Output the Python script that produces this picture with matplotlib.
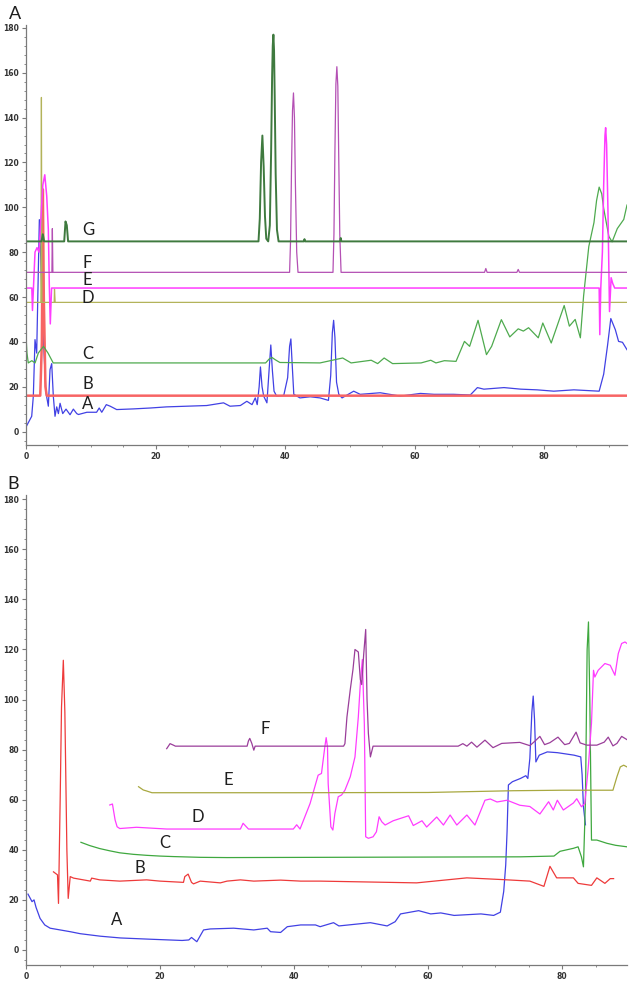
import numpy as np
import matplotlib
matplotlib.use("Agg")
import matplotlib.pyplot as plt
from matplotlib.ticker import MultipleLocator

# ---- panel A: (retention time, signal) points ----
pa_A = [(0.0, 2.0), (0.2, 3.1), (0.88, 6.8), (1.13, 15.7), (1.39, 41), (1.65, 35), (2.06, 94.5),
        (2.27, 78), (2.58, 47), (3.09, 17.2), (3.45, 11.3), (3.71, 27.6), (3.97, 30.3), (4.22, 15.7),
        (4.48, 6.8), (4.74, 11), (5.0, 8), (5.26, 12.6), (5.67, 8), (6.18, 10), (6.8, 7.5),
        (7.31, 10), (7.84, 8), (8.1, 7.6), (9.4, 8.6), (10.9, 8.6), (11.3, 10.5), (11.7, 8.6),
        (12.4, 12), (13.0, 11.3), (14.0, 9.8), (16.6, 10.1), (19.2, 10.5), (21.7, 11), (24.8, 11.3),
        (27.9, 11.6), (30.5, 12.8), (31.5, 11.3), (33.1, 11.6), (34.1, 13.5), (34.9, 12), (35.4, 15),
        (35.7, 12), (36.0, 20), (36.2, 28.8), (36.45, 20), (36.7, 15.8), (37.2, 12.8), (37.55, 28),
        (37.8, 38.6), (38.05, 27), (38.3, 18), (38.7, 15.8), (39.8, 16.1), (40.4, 24), (40.7, 38),
        (40.9, 41.3), (41.1, 30), (41.35, 16.6), (42.3, 15), (43.9, 15.5), (45.4, 15), (46.7, 13.9),
        (47.05, 25), (47.3, 44), (47.5, 49.6), (47.7, 42), (47.95, 22), (48.3, 16.6), (48.8, 15),
        (50.6, 18), (51.6, 16.6), (54.7, 17.3), (57.8, 15.8), (60.9, 17), (63.0, 16.6), (66.0, 16.6),
        (68.6, 16.3), (69.7, 19.6), (70.7, 18.9), (73.8, 19.6), (76.4, 18.9), (78.9, 18.6),
        (81.5, 18), (84.6, 18.6), (88.5, 18), (89.2, 25.6), (89.8, 38.5), (90.3, 50.4), (91.0, 45.4),
        (91.5, 40.2), (92.1, 39.8), (92.8, 36.5)]
pa_B = [(0.2, 16), (2.2, 16), (2.45, 40), (2.6, 108), (2.75, 60), (3.0, 20), (3.2, 16), (92.8, 16)]
pa_C = [(0.0, 42.5), (0.15, 35), (0.35, 30.6), (0.9, 31.6), (1.4, 30.6), (1.9, 35), (2.7, 38),
        (3.4, 35), (4.2, 30.6), (37.0, 30.6), (37.6, 32.5), (38.0, 33), (38.5, 32), (39.2, 30.8),
        (45.4, 30.6), (48.9, 32.8), (50.2, 30.6), (53.3, 31.8), (54.3, 30.3), (55.3, 32.8), (56.6, 30.3),
        (61.0, 30.6), (62.5, 31.8), (63.3, 30.6), (64.6, 31.6), (66.4, 31.3), (67.7, 40.2), (68.5, 38),
        (69.8, 49.6), (71.1, 34.3), (71.9, 38), (73.4, 49.9), (74.7, 42.2), (76.0, 45.8), (76.8, 44.8),
        (77.6, 46.3), (79.1, 41.8), (79.8, 48.4), (81.1, 39.5), (83.1, 56.2), (83.9, 47), (84.8, 50),
        (85.6, 41.8), (86.1, 60.5), (86.9, 82.5), (87.7, 93.2), (88.1, 103), (88.5, 109), (88.9, 106),
        (89.2, 99.5), (90.0, 87), (90.5, 84.6), (91.3, 90.5), (92.3, 94.6), (92.8, 101)]
pa_D = [(0.15, 57.6), (2.3, 57.6), (2.38, 149), (2.46, 57.6), (4.35, 57.6), (4.4, 63.5), (4.5, 57.6),
        (92.8, 57.6)]
pa_E = [(0.15, 64), (0.9, 64), (1.0, 54), (1.15, 64), (1.39, 80), (1.7, 82), (2.0, 80), (2.3, 95),
        (2.6, 110), (2.9, 114.5), (3.2, 105), (3.45, 90), (3.6, 65), (3.75, 48), (3.95, 64),
        (88.5, 64), (88.6, 43.2), (88.75, 64), (89.0, 80), (89.2, 110), (89.4, 132), (89.5, 135.5),
        (89.65, 128), (89.85, 100), (90.1, 53.5), (90.35, 68.6), (90.6, 66), (90.9, 64), (92.8, 64)]
pa_F = [(0.15, 71), (4.0, 71), (4.07, 90.5), (4.15, 71), (40.7, 71), (40.85, 85), (41.0, 118),
        (41.15, 143), (41.3, 151), (41.45, 140), (41.6, 110), (41.8, 80), (42.0, 71), (47.4, 71),
        (47.55, 88), (47.7, 125), (47.85, 155), (48.0, 162.7), (48.15, 154), (48.3, 120),
        (48.45, 88), (48.65, 71), (70.8, 71), (71.0, 72.7), (71.2, 71), (75.8, 71), (76.0, 72.3),
        (76.2, 71), (92.8, 71)]
pa_G = [(0.15, 84.8), (2.4, 84.8), (2.6, 88), (2.8, 84.8), (5.9, 84.8), (6.1, 93.7), (6.3, 92),
        (6.5, 84.8), (35.9, 84.8), (36.1, 95), (36.3, 120), (36.5, 132), (36.7, 118), (36.9, 96),
        (37.1, 86), (37.4, 84.8), (37.65, 92), (37.85, 125), (38.0, 158), (38.1, 172), (38.2, 177),
        (38.3, 170), (38.4, 150), (38.55, 115), (38.75, 90), (39.0, 84.8), (42.9, 84.8),
        (43.0, 85.8), (43.1, 84.8), (48.5, 84.8), (48.6, 86.3), (48.7, 84.8), (92.8, 84.8)]

# ---- panel B ----
pb_A = [(0.3, 22.3), (0.9, 19.3), (1.2, 20), (1.5, 17), (2.1, 12.6), (2.8, 10), (3.6, 8.7),
        (5.1, 8), (6.6, 7.3), (8.1, 6.5), (11.1, 5.5), (14.1, 4.8), (18.5, 4.3), (23.3, 3.8),
        (24.3, 4), (24.7, 5), (25.5, 3.3), (26.5, 8), (27.5, 8.4), (31.0, 8.7), (34.0, 8),
        (36.0, 8.7), (36.5, 7.3), (38.0, 7), (39.0, 9.3), (41.0, 10), (43.2, 10), (43.9, 9.3),
        (45.9, 10.9), (46.7, 9.6), (51.4, 10.9), (53.9, 9.6), (55.1, 11.3), (55.9, 14.4), (58.6, 15.7),
        (60.4, 14.4), (61.9, 14.8), (63.9, 13.8), (67.9, 14.4), (69.8, 13.8), (70.8, 15.1),
        (71.3, 23.4), (71.6, 34), (71.8, 47.3), (72.0, 65.9), (72.6, 67.2), (73.8, 68.5), (74.6, 69.6),
        (74.9, 68.5), (75.2, 76.5), (75.5, 95), (75.7, 101.4), (75.9, 92), (76.1, 75.1), (76.6, 77.8),
        (77.8, 79.1), (79.3, 78.8), (81.8, 77.8), (82.8, 77.1), (83.0, 70), (83.2, 57.2), (83.5, 50)]
pb_B = [(4.1, 31.2), (4.7, 30), (4.85, 18.6), (5.1, 60), (5.3, 97), (5.57, 115.7), (5.8, 95),
        (6.1, 40), (6.3, 20.6), (6.6, 29.3), (7.1, 28.7), (9.6, 27.5), (9.8, 28.7), (11.0, 28),
        (14.0, 27.5), (18.0, 28), (20.0, 27.5), (23.5, 27), (23.7, 29.3), (24.2, 30.3), (24.7, 27),
        (25.0, 26.4), (26.0, 27.5), (29.0, 26.8), (30.0, 27.5), (32.0, 28), (34.0, 27.5), (38.0, 27.9),
        (41.0, 27.5), (43.9, 27.5), (58.3, 26.8), (65.8, 28.8), (71.2, 28.1), (75.2, 27.5),
        (77.3, 25.4), (78.2, 33.4), (79.2, 28.8), (81.7, 28.8), (82.4, 26.6), (84.4, 25.8),
        (85.2, 28.8), (86.4, 26.6), (87.2, 28.5), (87.7, 28.5)]
pb_C = [(8.2, 43), (9.5, 41.7), (11.0, 40.5), (12.5, 39.6), (14.0, 38.8), (16.0, 38.2), (18.0, 37.8),
        (20.0, 37.5), (22.0, 37.3), (26.0, 37), (30.0, 36.9), (73.8, 37.2), (78.8, 37.5),
        (79.7, 39.4), (81.7, 40.6), (82.4, 41.2), (82.9, 37.2), (83.2, 33.2), (83.5, 60),
        (83.75, 120), (83.95, 131), (84.15, 100), (84.4, 43.9), (85.2, 43.9), (86.7, 42.6),
        (88.0, 41.8), (89.7, 41.2)]
pb_D = [(12.5, 57.9), (12.9, 58.3), (13.3, 51.9), (13.6, 49.2), (14.0, 48.5), (16.5, 49), (21.0, 48.3),
        (32.0, 48.3), (32.4, 50.6), (33.2, 48.3), (39.9, 48.3), (40.4, 50), (40.9, 48.3), (42.4, 58.5),
        (43.6, 69.8), (44.1, 70.5), (44.6, 81.1), (44.8, 84.8), (45.0, 81), (45.1, 66.5), (45.5, 49.2),
        (45.8, 47.9), (46.1, 54.5), (46.6, 61.2), (47.1, 61.9), (47.6, 63.8), (48.4, 69.2), (49.1, 77.1),
        (49.6, 93.1), (49.9, 106.4), (50.2, 116), (50.5, 90), (50.7, 45.2), (51.1, 44.6), (51.8, 45.2),
        (52.3, 47.2), (52.7, 53.2), (53.1, 51.2), (53.6, 49.9), (54.8, 51.6), (57.1, 53.6),
        (57.8, 49.7), (59.1, 51.6), (59.8, 49.1), (61.3, 53.1), (62.3, 49.9), (63.3, 53.9),
        (64.3, 49.9), (65.8, 53.9), (67.0, 49.9), (68.5, 59.8), (69.3, 60.3), (70.3, 59.1),
        (71.8, 59.8), (73.7, 57.8), (75.2, 57.3), (76.7, 54.3), (78.0, 59.2), (78.7, 55.9),
        (79.3, 59.8), (80.2, 55.9), (81.7, 58.7), (82.2, 60.4), (82.9, 57.2), (83.4, 58.5),
        (83.9, 72.3), (84.4, 90.6), (84.7, 111.7), (84.9, 109), (85.4, 111.7), (86.4, 114.4),
        (87.2, 113.7), (87.9, 109.7), (88.4, 118.4), (88.9, 122.4), (89.4, 123), (89.7, 122.4)]
pb_E = [(16.8, 65.2), (17.5, 63.9), (18.0, 63.5), (18.8, 62.8), (40.0, 62.8), (60.0, 62.9),
        (72.7, 63.6), (80.0, 63.8), (87.6, 63.8), (88.2, 69.2), (88.7, 73.1), (89.2, 73.8), (89.7, 73.1)]
pb_F = [(21.0, 80.4), (21.5, 82.4), (22.0, 81.8), (22.3, 81.4), (33.0, 81.4), (33.2, 83.5),
        (33.4, 84.5), (33.7, 82.5), (34.0, 79.8), (34.2, 81.4), (47.4, 81.4), (47.6, 82.4),
        (47.9, 93), (48.4, 104), (48.8, 112), (49.1, 120), (49.6, 119), (49.9, 108), (50.1, 106),
        (50.4, 118), (50.7, 128), (50.9, 100), (51.1, 86.5), (51.4, 77.1), (51.8, 81.4), (64.5, 81.4),
        (65.2, 82.4), (65.8, 81.4), (66.5, 83), (67.3, 81), (68.5, 83.8), (69.7, 80.8), (71.0, 82.5),
        (73.7, 82.9), (75.2, 81.6), (76.0, 83.5), (76.7, 85.3), (77.4, 82), (78.2, 82.8), (79.4, 85),
        (80.4, 82), (81.1, 82.5), (82.1, 87), (82.7, 82.7), (83.7, 81.8), (85.2, 81.8), (86.3, 83),
        (86.9, 85), (87.6, 81.5), (88.2, 82.5), (88.9, 85.3), (89.7, 84)]

BLUE = "#4141e4"
GREEN = "#4eaa4e"
OLIVE = "#b3b35a"
MAGENTA = "#ff3cff"

fig = plt.figure(figsize=(6.38, 9.85), dpi=100)


def style_axis(ax, xmax, ymin, ymax):
    ax.set_xlim(0, xmax)
    ax.set_ylim(ymin, ymax)
    for s in ("top", "right"):
        ax.spines[s].set_visible(False)
    for s in ("left", "bottom"):
        ax.spines[s].set_color("#7a7a7a")
        ax.spines[s].set_linewidth(0.9)
    ax.xaxis.set_major_locator(MultipleLocator(20))
    ax.xaxis.set_minor_locator(MultipleLocator(5))
    ax.yaxis.set_major_locator(MultipleLocator(20))
    ax.yaxis.set_minor_locator(MultipleLocator(4))
    ax.tick_params(which="major", length=3, width=0.8, color="#7a7a7a", labelsize=5.5,
                   labelcolor="#333333", pad=2)
    ax.tick_params(which="minor", length=1.5, width=0.6, color="#7a7a7a")
    for lab in ax.get_xticklabels() + ax.get_yticklabels():
        lab.set_fontweight("bold")
    ax.set_facecolor("none")


def draw(ax, pts, color, lw=0.9):
    arr = np.array(pts)
    ax.plot(arr[:, 0], arr[:, 1], color=color, lw=lw, solid_joinstyle="round")


def label(ax, x, y, s):
    ax.text(x, y, s, fontsize=12, family="Lato", color="#1e1e1e", ha="center", va="center")


# panel A
axA = fig.add_axes([26 / 638, 1 - 445 / 985, 601 / 638, 420 / 985])
style_axis(axA, 92.8, -6.0, 181.3)
draw(axA, pa_A, BLUE, 0.9)
draw(axA, pa_B, "#f76464", 1.8)
draw(axA, pa_C, GREEN, 0.9)
draw(axA, pa_D, OLIVE, 0.9)
draw(axA, pa_E, MAGENTA, 1.1)
draw(axA, pa_F, "#b450b4", 0.9)
draw(axA, pa_G, "#3f7a3f", 1.4)
for (x, y, s) in [(9.6, 90, "G"), (9.5, 75.2, "F"), (9.5, 67.4, "E"), (9.5, 59.6, "D"),
                  (9.5, 34.8, "C"), (9.5, 21.4, "B"), (9.5, 12.5, "A")]:
    label(axA, x, y, s)

# panel B
axB = fig.add_axes([26 / 638, 20 / 985, 601 / 638, 470 / 985])
style_axis(axB, 89.7, -6.0, 181.7)
draw(axB, pb_A, BLUE, 0.9)
draw(axB, pb_B, "#ee3a3a", 0.9)
draw(axB, pb_C, "#3fa83f", 0.9)
draw(axB, pb_D, MAGENTA, 0.9)
draw(axB, pb_E, "#a8a840", 0.9)
draw(axB, pb_F, "#9a3e9a", 0.9)
for (x, y, s) in [(35.7, 88.2, "F"), (30.2, 67.8, "E"), (25.6, 53, "D"), (20.7, 42.6, "C"),
                  (17.0, 32.6, "B"), (13.5, 12, "A")]:
    label(axB, x, y, s)

fig.text(15 / 638, 1 - 14 / 985, "A", fontsize=13, family="Lato", color="#1e1e1e",
         ha="center", va="center")
fig.text(13 / 638, 1 - 484 / 985, "B", fontsize=13, family="Lato", color="#1e1e1e",
         ha="center", va="center")

fig.savefig("out.png", dpi=100)
